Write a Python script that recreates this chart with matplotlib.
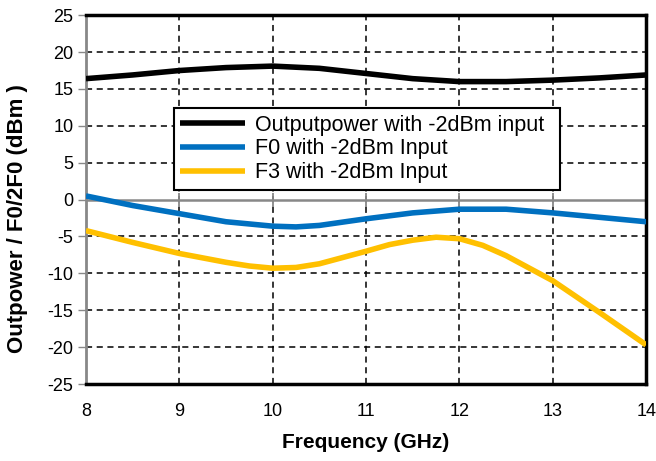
import matplotlib
matplotlib.use("Agg")
import matplotlib.pyplot as plt

plt.rcParams['font.family'] = ['Liberation Sans', 'DejaVu Sans']
plt.rcParams['axes.unicode_minus'] = False

freq_out = [8, 8.5, 9, 9.5, 10, 10.5, 11, 11.5, 12, 12.5, 13, 13.5, 14]
out_power = [16.4, 16.9, 17.5, 17.9, 18.1, 17.8, 17.1, 16.4, 16.0, 16.0, 16.2, 16.5, 16.9]

freq_f0 = [8, 8.5, 9, 9.5, 10, 10.25, 10.5, 11, 11.5, 12, 12.5, 13, 13.5, 14]
f0_power = [0.5, -0.8, -1.9, -3.0, -3.6, -3.7, -3.5, -2.6, -1.8, -1.3, -1.3, -1.8, -2.4, -3.0]

freq_f3 = [8, 8.5, 9, 9.5, 9.75, 10, 10.25, 10.5, 11, 11.25, 11.5, 11.75, 12, 12.25, 12.5, 13, 13.5, 14]
f3_power = [-4.2, -5.8, -7.3, -8.5, -9.0, -9.3, -9.2, -8.7, -7.0, -6.1, -5.5, -5.1, -5.3, -6.2, -7.6, -11.0, -15.3, -19.7]

labels = ["Outputpower with -2dBm input", "F0 with -2dBm Input", "F3 with -2dBm Input"]
xticks = [8, 9, 10, 11, 12, 13, 14]
yticks = list(range(-25, 30, 5))

fig = plt.figure(figsize=(6.56, 4.61), dpi=100)
ax = fig.add_axes([0.131, 0.167, 0.854, 0.800])

ax.set_xlim(8, 14)
ax.set_ylim(-25, 25)
ax.set_xticks(xticks)
ax.set_yticks(yticks)

for xv in xticks[1:-1]:
    ax.axvline(xv, color='black', lw=1.1, ls=(0, (4, 3)), zorder=1)
for yv in yticks[1:-1]:
    if yv != 0:
        ax.axhline(yv, color='black', lw=1.1, ls=(0, (4, 3)), zorder=1)
ax.axhline(0, color='#888888', lw=1.8, zorder=1.5)
ax.plot(xticks[1:-1], [0] * len(xticks[1:-1]), ls='none', marker='|', ms=10, mew=1.3,
        color='#888888', zorder=1.6)

ax.plot(freq_out, out_power, color='black', lw=4, label=labels[0], zorder=3,
        solid_capstyle='butt', solid_joinstyle='round')
ax.plot(freq_f0, f0_power, color='#0070C0', lw=4, label=labels[1], zorder=3,
        solid_capstyle='butt', solid_joinstyle='round')
ax.plot(freq_f3, f3_power, color='#FFC000', lw=4, label=labels[2], zorder=3,
        solid_capstyle='butt', solid_joinstyle='round')

for side in ['top', 'bottom', 'right']:
    ax.spines[side].set_color('black')
    ax.spines[side].set_linewidth(2.5)
ax.spines['left'].set_color('#888888')
ax.spines['left'].set_linewidth(2)

ax.tick_params(axis='y', direction='out', length=6, width=1, color='#888888', labelsize=13, pad=3)
ax.tick_params(axis='x', length=0, labelsize=13, pad=14)

ax.set_xlabel('Frequency (GHz)', fontsize=15, fontweight='bold', labelpad=9)
ax.set_ylabel('Outpower / F0/2F0 (dBm )', fontsize=16, fontweight='bold')
ax.yaxis.set_label_coords(-0.104, 0.448)

leg = ax.legend(loc='upper left', bbox_to_anchor=(0.157, 0.537, 0.689, 0.211), mode='expand',
                fontsize=15.5, frameon=True, fancybox=False, edgecolor='black', borderpad=0.3,
                handlelength=3.0, handletextpad=0.45, labelspacing=0.13, borderaxespad=0,
                framealpha=1)
leg.get_frame().set_linewidth(1.5)
leg.set_zorder(5)

fig.savefig('out.png', dpi=100)
